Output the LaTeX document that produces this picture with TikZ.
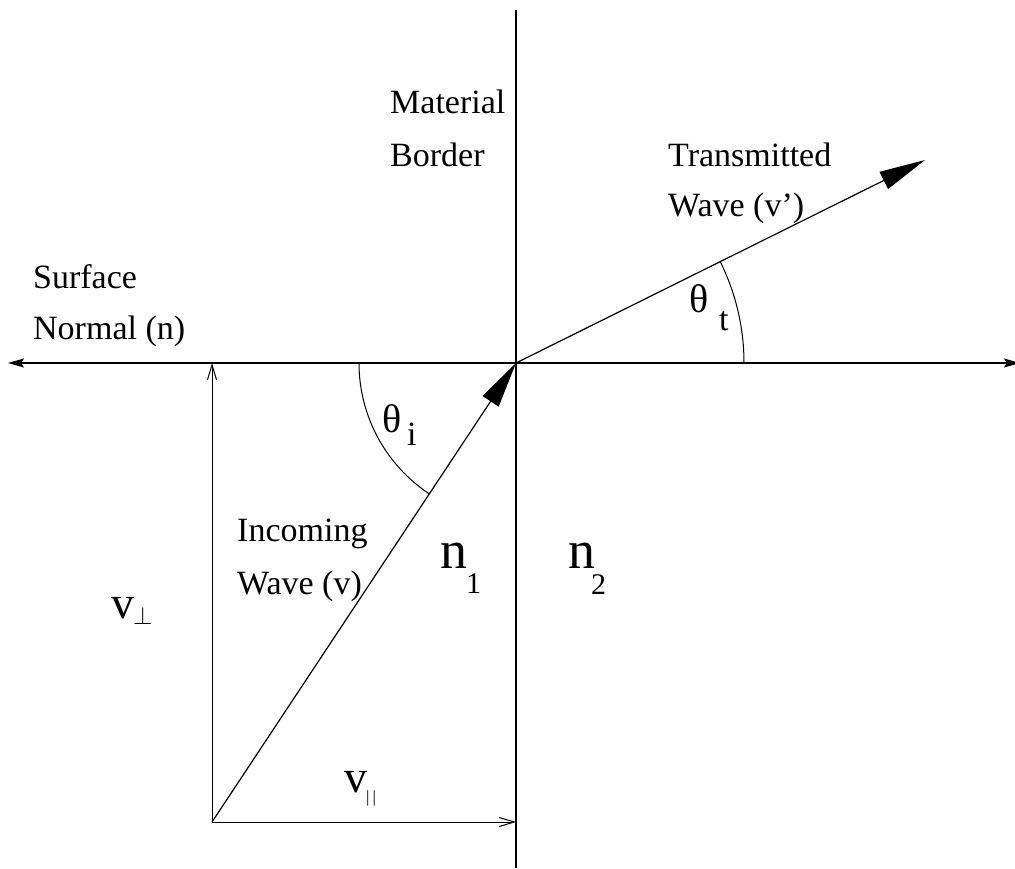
\documentclass[tikz,border=0pt]{standalone}
\usepackage{fontspec}
\setmainfont{Liberation Serif}
\usetikzlibrary{arrows.meta,calc}
\tikzset{
  lbl/.style={anchor=base west, inner sep=0pt, font=\fontsize{34}{40}\selectfont},
  greek/.style={anchor=base west, inner sep=0pt, font=\fontsize{40}{44}\selectfont},
  big/.style={anchor=base west, inner sep=0pt, font=\fontsize{54}{60}\selectfont},
  sub/.style={anchor=base west, inner sep=0pt, font=\fontsize{30}{36}\selectfont},
  vlab/.style={anchor=base west, inner sep=0pt, font=\fontsize{46}{50}\selectfont},
  axis/.style={line width=1.2pt},
  wave/.style={line width=1.2pt, -{Triangle[length=46pt,width=19pt]}},
  comp/.style={line width=1pt, -{Straight Barb[length=15pt,width=9pt]}},
  angarc/.style={line width=1pt}
}
\begin{document}
\begin{tikzpicture}[x=1pt,y=-1pt]
\useasboundingbox (0,0) rectangle (1015,868);
\coordinate (O) at (516,363);
\coordinate (top) at (516,10);
\coordinate (bot) at (516,868);
\coordinate (L) at (8,363);
\coordinate (R) at (1020,363);
\coordinate (A) at (212,822);
\coordinate (T) at (925,160);
\coordinate (P) at (212,363);
\coordinate (Q) at (516,822);
% axes
\draw[axis] (top) -- (bot);
\draw[axis, {Stealth[length=16pt,width=9pt,inset=3pt]}-{Stealth[length=16pt,width=9pt,inset=3pt]}] (L) -- (R);
% waves
\draw[wave] (A) -- (O);
\draw[wave] (O) -- (T);
% components
\draw[comp] (A) -- (P);
\draw[comp] (A) -- (Q);
% angle arcs
\draw[angarc] ($(O)+(-157,0)$) arc[start angle=180, end angle=123.5, radius=157];
\draw[angarc] ($(O)+(228,0)$) arc[start angle=0, end angle=-26.4, radius=228];
% labels
\node[lbl] (mat) at (390,113) {Material};
\node[lbl] (bor) at (390,166) {Border};
\node[lbl] (tr) at (668,166) {Transmitted};
\node[lbl] (trw) at (668,216) {Wave (v')};
\node[lbl] (sf) at (33,288) {Surface};
\node[lbl] (nm) at (33,339) {Normal (n)};
\node[lbl] (inc) at (237,541) {Incoming};
\node[lbl] (incw) at (237,594) {Wave (v)};
\node[greek] (thi) at (382,432) {θ};
\node[lbl] (thii) at (407,445) {i};
\node[greek] (tht) at (689,312) {θ};
\node[lbl] (thtt) at (719,330) {t};
\node[big] (n1) at (440,568) {n};
\node[sub] (n1s) at (466,593) {1};
\node[big] (n2) at (568,568) {n};
\node[sub] (n2s) at (591,594) {2};
\node[vlab] (vp) at (111,618) {v};
\node[anchor=base west, inner sep=0pt, font=\fontsize{24}{28}\selectfont] (vps) at (133,624) {$\perp$};
\node[vlab] (vl) at (344,792) {v};
\node[anchor=base west, inner sep=0pt, font=\fontsize{17}{20}\selectfont] (vls) at (366,802) {\textbar\kern3pt\textbar};
\end{tikzpicture}
\end{document}
